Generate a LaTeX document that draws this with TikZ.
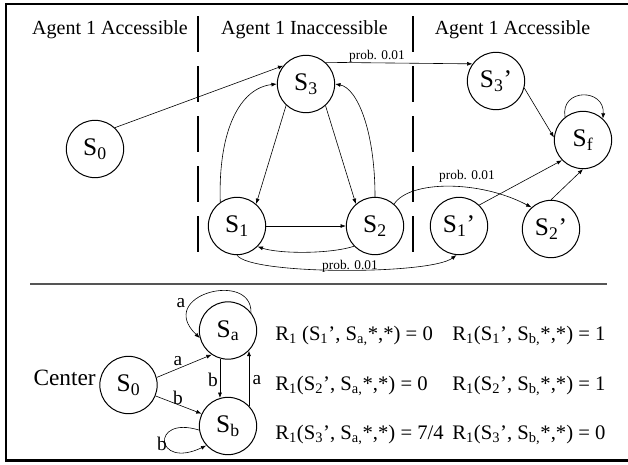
\documentclass[tikz,border=0pt]{standalone}
\usepackage{fontspec}
\setmainfont{Liberation Serif}
\usepackage{xcolor}
\usetikzlibrary{arrows.meta}

\tikzset{
  stnode/.style={draw, circle, line width=0.75pt, minimum size=43pt, inner sep=0pt, font=\fontsize{19}{19}\selectfont},
  arr/.style={-{Latex[length=4pt,width=3pt]}, line width=0.45pt},
  hdtext/.style={anchor=base, inner sep=0.75pt, font=\fontsize{15}{15}\selectfont},
  problbl/.style={anchor=base, inner sep=0.75pt, font=\fontsize{10}{10}\selectfont},
  edgelbl/.style={inner sep=0.75pt, font=\fontsize{14.5}{14.5}\selectfont},
  eqtext/.style={anchor=base west, inner sep=0pt, font=\fontsize{15.5}{15.5}\selectfont},
}

\begin{document}
\begin{tikzpicture}[x=0.75pt,y=0.75pt,yscale=-1,xscale=1]
\useasboundingbox (0,0) rectangle (628,464);

%Shape: Rectangle
\draw [line width=1.8pt] (6,4) rectangle (634,460.5);
%Dashed Lines
\draw [line width=1.3pt, dash pattern=on 27pt off 10.5pt] (198,16) -- (198,253);
\draw [line width=1.3pt, dash pattern=on 27pt off 10.5pt] (413,16) -- (413,253);
%Straight Lines
\draw [line width=1.5pt, color={rgb, 255:red, 85; green, 85; blue, 85}] (30,284) -- (607,284);

% Text Node
\draw (110,34) node [hdtext] (hdleft) {Agent 1 Accessible};
% Text Node
\draw (304.5,34) node [hdtext] (hdmid) {Agent 1 Inaccessible};
% Text Node
\draw (512.5,34) node [hdtext] (hdright) {Agent 1 Accessible};

%Shape: Circle
\node [stnode] (s0) at (95,149) {S\textsubscript{0}};
\node [stnode] (s3) at (306,84) {S\textsubscript{3}};
\node [stnode] (s1) at (237,226) {S\textsubscript{1}};
\node [stnode] (s2) at (375,226) {S\textsubscript{2}};
\node [stnode] (s3p) at (496,81) {S\textsubscript{3}'};
\node [stnode] (sf) at (583,140) {S\textsubscript{f}};
\node [stnode] (s1p) at (459,226) {S\textsubscript{1}'};
\node [stnode] (s2p) at (551,229) {S\textsubscript{2}'};

%Straight Lines
\draw [arr] (s0.47) -- (s3.141);
\draw [arr] (s3.48) -- (s3p.144);
\draw [arr] (s3.227) -- (s1.49);
\draw [arr] (s3.312) -- (s2.131);
\draw [arr] (s1) -- (s2);
\draw [arr] (s3p.-14) -- (sf.175);
\draw [arr] (s1p.46) -- (sf.224);
\draw [arr] (s2p.90) -- (sf.270);
%Curve Lines
\draw [arr] (s1.125) .. controls (218,130) and (240,88) .. (s3.180);
\draw [arr] (s2.90) .. controls (375,130) and (357,88) .. (s3.0);
\draw [arr] (s2.224) .. controls (330,254) and (280,254) .. (s1.-45);
\draw [arr] (s1.270) .. controls (250,275) and (430,275) .. (s1p.265);
\draw [arr] (s2.49) .. controls (410,180) and (480,180) .. (s2p.132);
\draw [arr] (sf.128) .. controls (560,88) and (605,88) .. (sf.47);

% Text Node
\draw (377,59) node [problbl] (pr3) {prob. 0.01};
% Text Node
\draw (467,179) node [problbl] (pr2) {prob. 0.01};
% Text Node
\draw (350,269.5) node [problbl] (pr1) {prob. 0.01};

%Shape: Circle
\node [stnode] (c0) at (128.5,385) {S\textsubscript{0}};
\node [stnode] (sa) at (228,330.5) {S\textsubscript{a}};
\node [stnode] (sb) at (228,426) {S\textsubscript{b}};

% Text Node
\draw (97,385) node [anchor=base east, inner sep=0.75pt, font=\fontsize{17.5}{17.5}\selectfont] (ctr) {Center};

%Straight Lines
\draw [arr] (c0.15) -- (sa.236);
\draw [arr] (c0.-22) -- (sb.155);
\draw [arr] (sa.254) -- (sb.106);
\draw [arr] (sb.44) -- (sa.316);
%Curve Lines
\draw [arr] (sa.38) .. controls (252,270) and (155,295) .. (sa.195);
\draw [arr] (sb.188) .. controls (150,415) and (155,470) .. (sb.222);

% Text Node
\draw (181,303) node [edgelbl] (la1) {a};
\draw (178,361) node [edgelbl] (la2) {a};
\draw (178,398) node [edgelbl] (lb1) {b};
\draw (213,380) node [edgelbl] (lb2) {b};
\draw (257,380) node [edgelbl] (la3) {a};
\draw (162,444) node [edgelbl] (lb3) {b};

% Text Node
\draw (275,340.5) node [eqtext] (eq1a) {R\textsubscript{1} (S\textsubscript{1}', S\textsubscript{a,}*,*) = 0};
\draw (452,340.5) node [eqtext] (eq1b) {R\textsubscript{1}(S\textsubscript{1}', S\textsubscript{b,}*,*) = 1};
\draw (275,390.5) node [eqtext] (eq2a) {R\textsubscript{1}(S\textsubscript{2}', S\textsubscript{a,}*,*) = 0};
\draw (452,390.5) node [eqtext] (eq2b) {R\textsubscript{1}(S\textsubscript{2}', S\textsubscript{b,}*,*) = 1};
\draw (275,439.5) node [eqtext] (eq3a) {R\textsubscript{1}(S\textsubscript{3}', S\textsubscript{a,}*,*) = 7/4};
\draw (452,439.5) node [eqtext] (eq3b) {R\textsubscript{1}(S\textsubscript{3}', S\textsubscript{b,}*,*) = 0};

\end{tikzpicture}
\end{document}
